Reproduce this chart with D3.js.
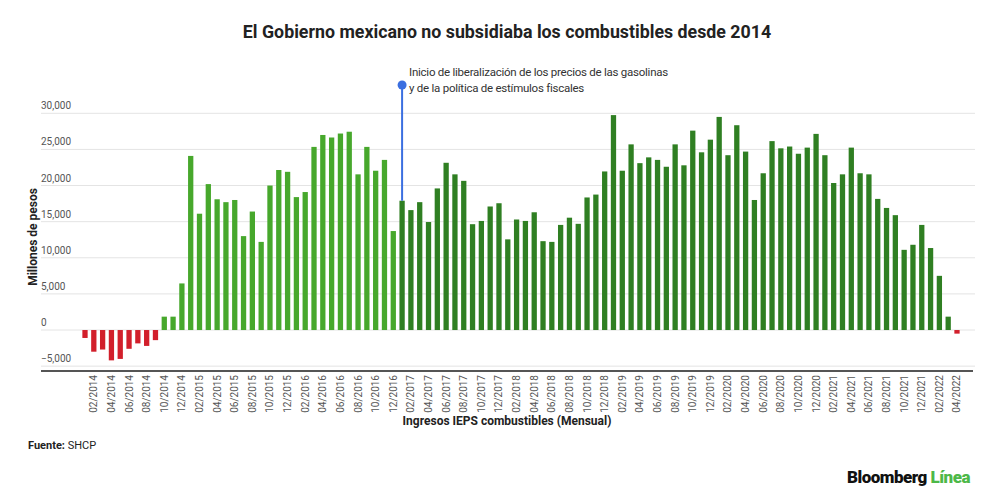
<!DOCTYPE html>
<html>
<head>
<meta charset="utf-8">
<script src="https://cdn.jsdelivr.net/npm/d3@7"></script>
<style>
  body { margin: 0; background: #fff; font-family: Roboto, "Noto Sans", sans-serif; }
</style>
</head>
<body>
<div id="chart"></div>
<script>
// Ingresos IEPS combustibles, millones de pesos, 01/2014 - 04/2022
const startYear = 2014;
const values = [
  -1100, -3000, -2700, -4200, -4000, -2600, -1850, -2200, -1400, 1850, 1850, 6450,
  24100, 16100, 20200, 18100, 17700, 18000, 13000, 16400, 12200, 20000, 22150, 21900,
  18400, 19100, 25350, 27000, 26650, 27200, 27450, 21550, 25350, 22050, 23550, 13700,
  17900, 16600, 17700, 14950, 19600, 23150, 21550, 20650, 14650, 15100, 17100, 17550,
  12550, 15300, 15100, 16300, 12300, 12200, 14550, 15550, 14700, 18350, 18750, 21950,
  29750, 22050, 25700, 23100, 23900, 23550, 22600, 25700, 22800, 27600, 24600, 26350,
  29500, 24200, 28350, 24700, 18000, 21700, 26150, 25150, 25400, 24400, 25250, 27150,
  24200, 20350, 21550, 25250, 21700, 21550, 18150, 16900, 15900, 11100, 11800, 14550,
  11350, 7500, 1850, -500
];
const months = values.map((v, i) => {
  const m = (i % 12) + 1;
  const y = startYear + Math.floor(i / 12);
  return `${String(m).padStart(2, "0")}/${y}`;
});
const yTicks = [-5000, 0, 5000, 10000, 15000, 20000, 25000, 30000];
const liberalizationMonth = "01/2017";

const W = 1000, H = 497;
const svg = d3.select("#chart").append("svg")
  .attr("width", W)
  .attr("height", H);

const x = d3.scaleBand()
  .domain(months)
  .range([80.6, 961.4])
  .paddingInner(0.4)
  .paddingOuter(0.2);

const y = d3.scaleLinear()
  .domain([-5700, 30000])
  .range([371.2, 113.3]);

const gridLeft = 41, gridRight = 975;

// gridlines + y labels
const grid = svg.append("g");
grid.selectAll("line")
  .data(yTicks)
  .join("line")
  .attr("x1", gridLeft)
  .attr("x2", gridRight)
  .attr("y1", d => y(d))
  .attr("y2", d => y(d))
  .attr("stroke", "#e4e4e4")
  .attr("stroke-width", 1);

grid.selectAll("text")
  .data(yTicks)
  .join("text")
  .attr("x", gridLeft)
  .attr("y", d => y(d) - 4)
  .style("font-size", "10px")
  .style("fill", "#555")
  .text(d => d3.format(",")(d));

// bars
const startIdx = months.indexOf(liberalizationMonth);
svg.append("g")
  .selectAll("rect")
  .data(values)
  .join("rect")
  .attr("x", (d, i) => x(months[i]))
  .attr("width", x.bandwidth())
  .attr("y", d => y(Math.max(0, d)))
  .attr("height", d => Math.abs(y(d) - y(0)))
  .attr("fill", (d, i) => d < 0 ? "#d21f2b" : (i < startIdx ? "#47a82c" : "#2f7f22"));

// x axis baseline
svg.append("line")
  .attr("x1", gridLeft)
  .attr("x2", 973)
  .attr("y1", 371)
  .attr("y2", 371)
  .attr("stroke", "#555")
  .attr("stroke-width", 2);

// x tick labels every second month
svg.append("g")
  .selectAll("text")
  .data(months.filter((m, i) => i % 2 === 1))
  .join("text")
  .attr("transform", d => `translate(${x(d) + x.bandwidth() / 2},375) rotate(-90)`)
  .attr("text-anchor", "end")
  .attr("dy", "0.35em")
  .style("font-size", "10px")
  .style("fill", "#555")
  .text(d => d);

// annotation
const ax = x(liberalizationMonth) + x.bandwidth() / 2;
svg.append("line")
  .attr("x1", ax)
  .attr("x2", ax)
  .attr("y1", 85)
  .attr("y2", y(values[startIdx]))
  .attr("stroke", "#3b6fe0")
  .attr("stroke-width", 2);
svg.append("circle")
  .attr("cx", ax)
  .attr("cy", 85)
  .attr("r", 4.5)
  .attr("fill", "#3b6fe0");
const note = svg.append("text")
  .attr("x", ax + 7)
  .attr("y", 76)
  .style("font-size", "11.5px")
  .style("letter-spacing", "-0.25px")
  .style("fill", "#333");
note.append("tspan").text("Inicio de liberalización de los precios de las gasolinas");
note.append("tspan").attr("x", ax + 7).attr("dy", 16).text("y de la política de estímulos fiscales");

// titles
svg.append("text")
  .attr("x", 507)
  .attr("y", 38)
  .attr("text-anchor", "middle")
  .style("font-size", "17.8px")
  .style("font-weight", "700")
  .style("fill", "#222")
  .text("El Gobierno mexicano no subsidiaba los combustibles desde 2014");

svg.append("text")
  .attr("transform", "translate(37,237) rotate(-90)")
  .attr("text-anchor", "middle")
  .style("font-size", "12px")
  .style("font-weight", "700")
  .style("fill", "#222")
  .text("Millones de pesos");

svg.append("text")
  .attr("x", 507)
  .attr("y", 425)
  .attr("text-anchor", "middle")
  .style("font-size", "12px")
  .style("font-weight", "700")
  .style("fill", "#222")
  .text("Ingresos IEPS combustibles (Mensual)");

const src = svg.append("text")
  .attr("x", 28)
  .attr("y", 449)
  .style("font-size", "11px")
  .style("fill", "#222");
src.append("tspan").style("font-weight", "700").text("Fuente:");
src.append("tspan").text(" SHCP");

const logo = svg.append("text")
  .attr("x", 970)
  .attr("y", 483)
  .attr("text-anchor", "end")
  .style("font-size", "17px")
  .style("font-weight", "900")
  .style("letter-spacing", "-0.5px");
logo.append("tspan").style("fill", "#111").text("Bloomberg ");
logo.append("tspan").style("fill", "#4db848").text("Línea");
</script>
</body>
</html>
